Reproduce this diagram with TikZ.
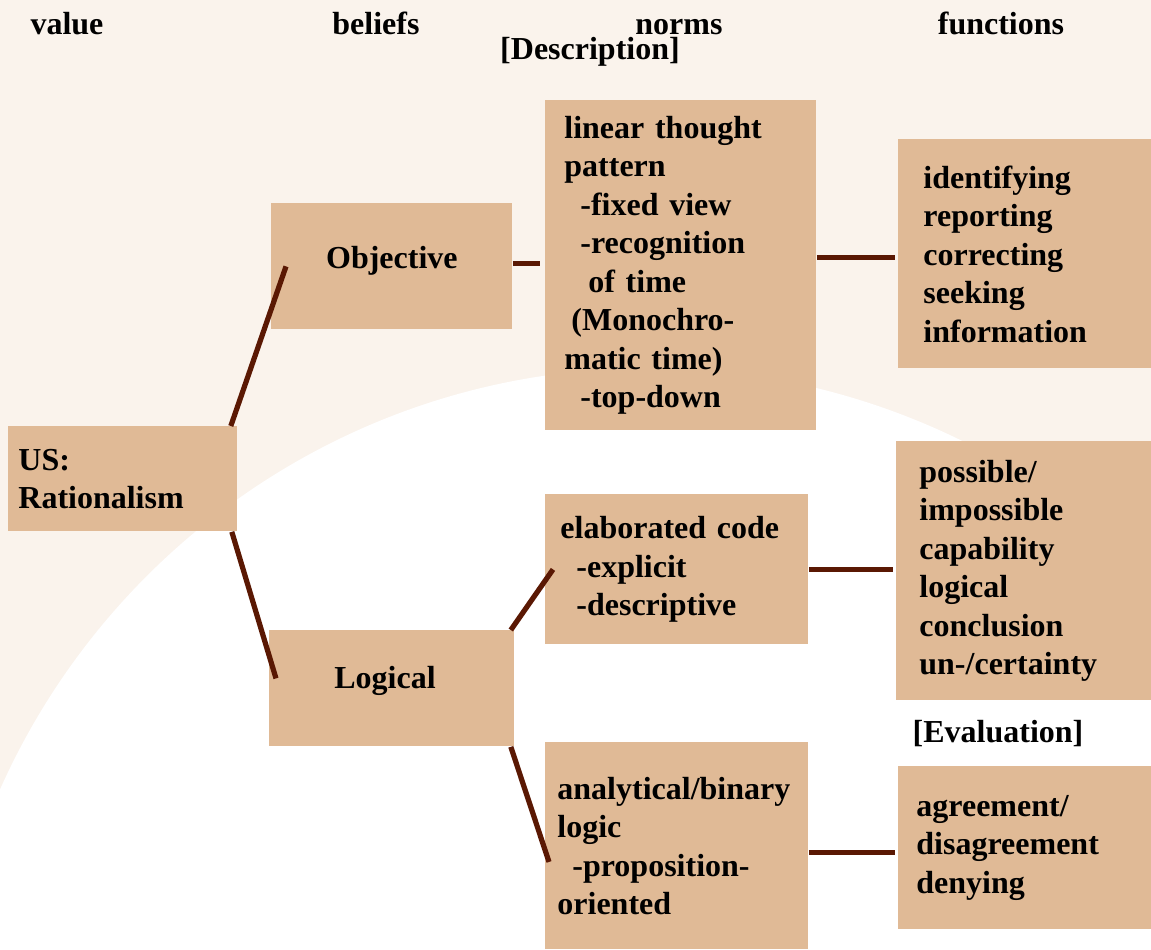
\documentclass[tikz,border=0pt]{standalone}
\usepackage{fontspec}
\setmainfont{Liberation Serif}
\usepackage{tikz}

\definecolor{boxtan}{HTML}{E0BA96}
\definecolor{bgcream}{HTML}{FAF3EC}
\definecolor{linkbrown}{HTML}{5A1803}

\tikzset{
  box/.style={fill=boxtan, anchor=north west, align=left, inner ysep=0pt},
  head/.style={anchor=base, inner sep=0pt},
  link/.style={draw=linkbrown, line width=2.6pt},
}

\begin{document}
\begin{tikzpicture}[x=0.5pt, y=-0.5pt, font=\fontsize{16}{19.25}\selectfont\bfseries]  % one unit = one pixel of the sketch
    % Page and the white arc behind it
    \useasboundingbox (0,0) rectangle (1151,949);
    \clip (0,0) rectangle (1151,949);
    \fill[bgcream] (0,0) rectangle (1151,949);
    \fill[white] (648.7,1077.8) circle[radius=354.85pt];

    % Column headings
    \node[head] (hvalue) at (67,34) {value};
    \node[head] (hbeliefs) at (376,34) {beliefs};
    \node[head] (hnorms) at (679,34) {norms};
    \node[head] (hfunctions) at (1001,34) {functions};
    \node[head] (hdescr) at (590,59) {[Description]};
    \node[head] (heval) at (998,742) {[Evaluation]};

    % value
    \node[box, minimum height=52.5pt, text width=104.5pt, inner xsep=5pt] (us) at (8,426) {US:\\Rationalism};

    % beliefs
    \node[box, align=center, minimum height=63pt, text width=120.5pt, inner xsep=0pt, text depth=9pt] (obj) at (271,203) {Objective};
    \node[box, minimum height=58pt, text width=57.5pt, inner xsep=32.5pt, text depth=11pt] (logi) at (269,630) {Logical};

    % norms
    \node[box, minimum height=165pt, text width=116.5pt, inner xsep=9.5pt] (lin) at (545,100)
        {linear thought\\pattern\\\hspace*{8pt}-fixed view\\\hspace*{8pt}-recognition\\\hspace*{12pt}of time\\\hspace*{3.5pt}(Monochro-\\matic time)\\\hspace*{8pt}-top-down};
    \node[box, minimum height=75pt, text width=116.5pt, inner xsep=7.5pt] (ela) at (545,494)
        {elaborated code\\\hspace*{8pt}-explicit\\\hspace*{8pt}-descriptive};
    \node[box, minimum height=103.5pt, text width=119.5pt, inner xsep=6pt] (ana) at (545,742)
        {analytical/binary\\logic\\\hspace*{7.5pt}-proposition-\\oriented};

    % functions
    \node[box, minimum height=114.5pt, text width=106pt, inner xsep=12.5pt] (ide) at (898,139)
        {identifying\\reporting\\correcting\\seeking\\information};
    \node[box, minimum height=129.5pt, text width=109pt, inner xsep=11.5pt] (pos) at (896,441)
        {possible/\\impossible\\capability\\logical\\conclusion\\un-/certainty};
    \node[box, minimum height=81.5pt, text width=113pt, inner xsep=9pt] (agr) at (898,766)
        {agreement/\\disagreement\\denying};

    % Connectors
    \draw[link] ([xshift=-3.5pt]us.north east) -- ([xshift=7.5pt]obj.west);
    \draw[link] ([xshift=-3pt]us.south east) -- ([xshift=3.5pt,yshift=5pt]logi.west);
    \draw[link, shorten >=2.5pt] ([yshift=1.5pt]obj.east) -- ([yshift=1.5pt]obj.east -| lin.west);
    \draw[link, shorten >=1.5pt] ([yshift=-1.75pt]ide.west -| lin.east) -- ([yshift=-1.75pt]ide.west);
    \draw[link] ([xshift=-2pt]logi.north east) -- ([xshift=4pt]ela.west);
    \draw[link] ([xshift=-2pt]logi.south east) -- ([xshift=2pt,yshift=-8pt]ana.west);
    \draw[link, shorten >=1.5pt] (ela.east) -- (ela.east -| pos.west);
    \draw[link, shorten >=1.5pt] ([yshift=-2.25pt]agr.west -| ana.east) -- ([yshift=-2.25pt]agr.west);
\end{tikzpicture}
\end{document}
